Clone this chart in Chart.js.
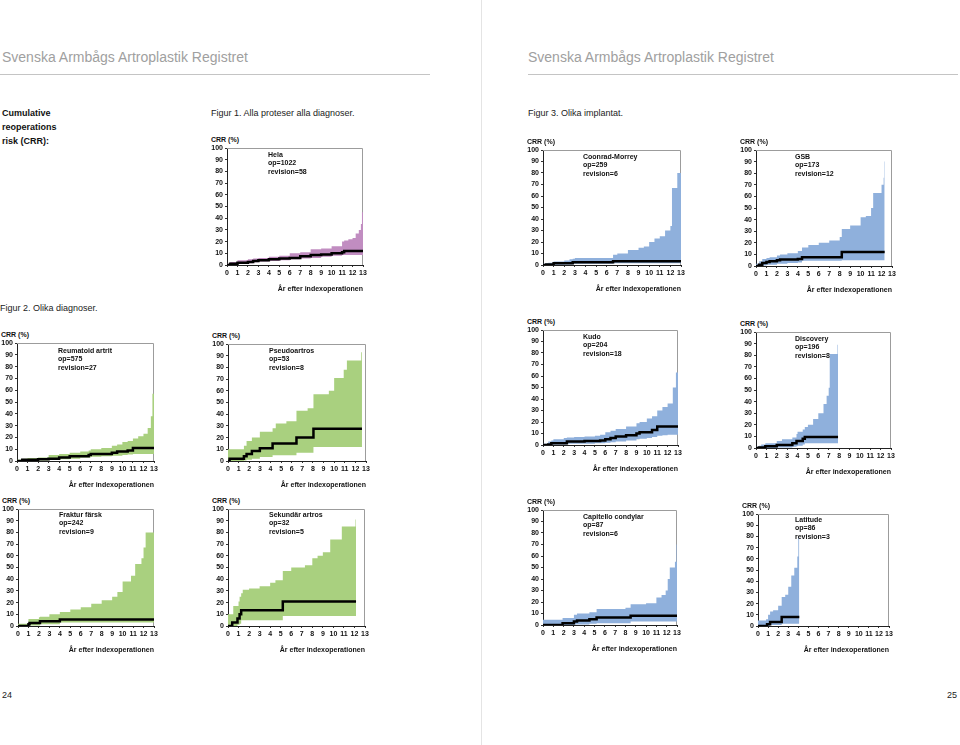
<!DOCTYPE html>
<html>
<head>
<meta charset="utf-8">
<script src="https://cdn.jsdelivr.net/npm/chart.js@4.4.1/dist/chart.umd.min.js"></script>
<style>
  body { margin: 0; width: 960px; height: 745px; position: relative; overflow: hidden; background: #fff;
         font-family: "Liberation Sans", Arial, sans-serif; }
  .abs { position: absolute; white-space: nowrap; }
  .head { font-size: 14px; color: #a0a0a0; }
  .rule { position: absolute; height: 1px; background: #c4c4c4; }
  .fig { font-size: 9px; color: #222; }
  .lead { font-size: 9px; font-weight: bold; color: #111; line-height: 14px; }
  .crr { font-size: 7px; font-weight: bold; color: #111; }
  .note { font-size: 7px; font-weight: bold; color: #111; line-height: 8.3px; }
  canvas { position: absolute; }
</style>
</head>
<body>

<div class="abs head" style="left:2px;top:49px">Svenska Armbågs Artroplastik Registret</div>
<div class="abs head" style="left:528px;top:49px">Svenska Armbågs Artroplastik Registret</div>
<div class="rule" style="left:0;top:74px;width:430px"></div>
<div class="rule" style="left:528px;top:74px;width:430px"></div>
<div style="position:absolute;left:481px;top:0;width:1px;height:745px;background:#e4e4e4"></div>

<div class="abs lead" style="left:2px;top:106px">Cumulative<br>reoperations<br>risk (CRR):</div>
<div class="abs fig" style="left:211px;top:108px">Figur 1. Alla proteser alla diagnoser.</div>
<div class="abs fig" style="left:0px;top:303px">Figur 2. Olika diagnoser.</div>
<div class="abs fig" style="left:528px;top:108px">Figur 3. Olika implantat.</div>
<div class="abs fig" style="left:2px;top:690px">24</div>
<div class="abs fig" style="left:947px;top:690px">25</div>

<script>
// panel labels
const names = ['Hela', 'Reumatoid artrit', 'Pseudoartros', 'Fraktur färsk', 'Sekundär artros',
  'Coonrad-Morrey', 'GSB', 'Kudo', 'Discovery', 'Capitello condylar', 'Latitude']
const ops = [1022, 575, 53, 242, 32, 259, 173, 204, 196, 87, 86]
const revisions = [58, 27, 8, 9, 5, 6, 12, 18, 8, 6, 3]

// years after index operation, CRR, lower and upper limit (%)
const helaT   = [0, 0.3, 1, 2, 2.5, 3, 4, 5, 6, 7, 8, 9, 10, 11, 11.2, 11.6, 12, 12.3, 12.6, 12.8, 12.9, 13]
const helaCrr = [0, 1, 2, 2.5, 3.5, 4, 5, 5.5, 6, 7.5, 8.5, 9, 10, 11, 12, 12, 12, 12, 12, 12, 12, 12]
const helaLo  = [0, 0.3, 1, 1.5, 2.3, 3, 3.5, 4, 5, 5.5, 6, 7, 8, 8.5, 8.5, 8.5, 8.5, 8.5, 8.5, 8.5, 8.5, 8.5]
const helaHi  = [1, 2.5, 4, 5, 5.5, 6, 7, 8, 10, 11, 13.5, 14, 16, 20, 21, 22, 23, 27, 30, 35, 45, 57]

const reumT   = [0, 0.5, 1, 2, 3, 4, 5, 6, 6.8, 7, 8, 9, 9.5, 10, 10.5, 11, 11.5, 12, 12.4, 12.7, 12.85, 13]
const reumCrr = [0, 1, 1, 1.5, 2, 3, 4, 4, 5, 6, 6, 7, 8, 8, 9, 11, 11, 11, 11, 11, 11, 11]
const reumLo  = [0, 0.3, 0.5, 0.5, 1, 1.5, 2, 3, 3, 3.5, 4, 4.5, 4.5, 5, 5.5, 6, 6, 6, 6, 6, 6, 6]
const reumHi  = [1, 2, 2.5, 3, 5, 6, 7, 8, 9, 10, 11, 13, 14, 16, 17, 19, 21, 23, 28, 38, 57, 71]

const pseuT   = [0, 0.15, 1.5, 1.75, 2.25, 3, 4.2, 4.5, 5.5, 6.45, 7.5, 8.05, 9.5, 10, 10.9, 11.2, 12.55, 12.62]
const pseuCrr = [0, 2, 4, 6, 8.5, 11, 15, 15, 15, 20, 20, 27.5, 27.5, 27.5, 27.5, 27.5, 27.5, 27.5]
const pseuLo  = [0, 0, 0.5, 1, 2, 3.5, 5, 5, 5, 7, 7, 12, 12, 12, 12, 12, 12, 12]
const pseuHi  = [10, 10, 13, 17, 20, 25, 28, 32, 34, 43, 45, 57, 60, 71, 78, 86, 93, 93]

const fracT   = [0, 1, 1.1, 2, 2.1, 3, 4, 5, 6, 7, 8, 9, 9.5, 10, 10.8, 11.2, 11.8, 12, 12.2, 13]
const fracCrr = [0, 1.5, 2.5, 2.5, 4, 4, 5.5, 5.5, 5.5, 5.5, 5.5, 5.5, 5.5, 5.5, 5.5, 5.5, 5.5, 5.5, 5.5, 5.5]
const fracLo  = [0, 0.3, 0.5, 0.5, 1.5, 1.5, 3, 3, 3, 3, 3, 3, 3, 3, 3, 3, 3, 3, 3, 3]
const fracHi  = [2, 6, 6, 7.5, 8, 10, 12, 14, 16, 19, 22, 25, 29, 38, 43, 53, 58, 67, 80, 80]

const sekT   = [0, 0.4, 0.5, 0.9, 1, 1.1, 1.25, 1.4, 2, 3, 4, 4.5, 5.2, 6, 7.3, 8, 8.5, 9, 9.7, 10.8, 12.1, 12.15]
const sekCrr = [0, 3, 3, 6.5, 6.5, 10, 13.5, 13.5, 13.5, 13.5, 13.5, 13.5, 21, 21, 21, 21, 21, 21, 21, 21, 21, 21]
const sekLo  = [0, 0, 0, 1, 1, 2, 5, 5, 5, 5, 5, 5, 8.5, 8.5, 8.5, 8.5, 8.5, 8.5, 8.5, 8.5, 8.5, 8.5]
const sekHi  = [10, 10, 17, 17, 21, 25, 28, 31, 32, 34, 37, 39, 47, 50, 52, 58, 60, 63, 74, 85, 91, 91]

const coonT   = [0, 0.3, 0.5, 1, 2, 2.5, 2.8, 3, 6.6, 7, 8, 9, 9.5, 10, 10.5, 11, 11.5, 12, 12.15, 12.65, 13]
const coonCrr = [0, 0.5, 0.5, 1.5, 1.5, 1.5, 2.5, 2.5, 3.3, 3.3, 3.3, 3.3, 3.3, 3.3, 3.3, 3.3, 3.3, 3.3, 3.3, 3.3, 3.3]
const coonLo  = [0, 0, 0, 0.3, 0.5, 0.5, 1, 1, 1.5, 1.5, 1.5, 1.5, 1.5, 1.5, 1.5, 1.5, 1.5, 1.5, 1.5, 1.5, 1.5]
const coonHi  = [1, 1.5, 2, 3, 4, 5, 5.5, 6, 9, 10, 13, 15, 16, 20, 23, 25, 30, 34, 67, 80, 80]

const gsbT   = [0, 0.3, 0.6, 1, 1.3, 2, 2.3, 3, 4, 4.4, 5, 6, 7, 8, 8.2, 9, 10, 10.5, 11, 11.2, 12, 12.2, 12.25, 12.3]
const gsbCrr = [0, 1, 2.5, 3.5, 4, 5, 5.5, 5.5, 6, 7.5, 7.5, 7.5, 7.5, 7.5, 12, 12, 12, 12, 12, 12, 12, 12, 12, 12]
const gsbLo  = [0, 0, 0.5, 1, 1, 2, 2, 2.5, 3, 4.5, 4.5, 4.5, 4.5, 4.5, 5, 5, 5, 5, 5, 5, 5, 5, 5, 5]
const gsbHi  = [2, 4, 6, 7, 7.5, 9, 10, 11, 13, 16, 18, 20, 22, 25, 32, 35, 42, 43, 50, 63, 70, 76, 90, 90]

const kudoT   = [0, 0.5, 0.8, 1, 2, 2.3, 3, 4, 5, 5.5, 6, 6.5, 7, 8, 9, 9.3, 10, 10.5, 11, 11.5, 12, 12.5, 12.8, 13]
const kudoCrr = [0, 0.5, 1.5, 1.5, 1.5, 3, 3, 3.5, 3.5, 4, 5, 6, 7.5, 8.5, 10, 11, 11, 13, 16, 16, 16, 16, 16, 16]
const kudoLo  = [0, 0, 0.3, 0.5, 0.5, 1, 1, 1, 1.5, 1.5, 2, 2.5, 3, 4, 5, 5.5, 6, 7, 8, 8.5, 9, 9, 9, 9]
const kudoHi  = [1, 3, 4, 5, 6, 6.5, 7, 7.5, 8, 9, 11, 12.5, 14, 16, 19, 20, 23, 25, 30, 33, 36, 50, 63, 75]

const discT   = [0, 0.3, 0.5, 0.9, 1, 2, 2.5, 3.5, 3.9, 4, 4.5, 4.7, 5, 5.5, 6, 6.5, 6.8, 7, 7.1, 7.8, 7.85, 7.9]
const discCrr = [0, 0.5, 0.5, 1.5, 1.5, 2.5, 2.5, 4, 6, 6, 8, 9.5, 9.5, 9.5, 9.5, 9.5, 9.5, 9.5, 9.5, 9.5, 9.5, 9.5]
const discLo  = [0, 0, 0, 0, 0, 0.5, 0.5, 1, 1.5, 2, 3, 4, 4, 4, 4, 4, 4, 4, 4, 4, 4, 4]
const discHi  = [1, 2, 3, 4, 4, 6, 7.5, 9, 12, 14, 16, 18, 20, 25, 30, 38, 45, 52, 81, 81, 89, 89]

const capT   = [0, 1.9, 3, 3.3, 4.5, 5.2, 8, 8.5, 10, 11, 11.5, 11.9, 12.1, 12.3, 12.8, 12.95, 13]
const capCrr = [0, 1.5, 3, 4, 5, 6.5, 6.5, 8, 8, 8, 8, 8, 8, 8, 8, 8, 8]
const capLo  = [0, 0, 0.5, 0.5, 1, 1.5, 1.5, 3, 3, 3, 3, 3, 3, 3, 3, 3, 3]
const capHi  = [4.5, 6, 9, 10, 11, 14, 15, 18, 19, 24, 26, 30, 40, 50, 55, 70, 70]

const latT   = [0, 0.8, 0.9, 1, 1.2, 1.5, 2, 2.35, 2.7, 3, 3.3, 3.6, 3.9, 4, 4.1]
const latCrr = [0, 0, 1.5, 1.5, 3.5, 3.5, 3.5, 8, 8, 8, 8, 8, 8, 8, 8]
const latLo  = [0, 0, 0, 0, 1, 1, 1, 2, 2, 2, 2, 2, 2, 2, 2]
const latHi  = [5, 6, 6, 10, 13, 14, 18, 26, 28, 35, 45, 52, 62, 80, 80]

const xTicks = [0, 1, 2, 3, 4, 5, 6, 7, 8, 9, 10, 11, 12, 13]
const yTicks = [0, 10, 20, 30, 40, 50, 60, 70, 80, 90, 100]

const purple = '#c18dc1'
const green = '#a9d07f'
const blue = '#8fb0dc'

// where each little chart sits on the spread
const panels = [
  { t: helaT, crr: helaCrr, lo: helaLo, hi: helaHi, color: purple, x0: 227, top: 148, right: 363, bottom: 265, nx: 268, ny: 151 },
  { t: reumT, crr: reumCrr, lo: reumLo, hi: reumHi, color: green, x0: 17, top: 343, right: 154, bottom: 461, nx: 58, ny: 347 },
  { t: pseuT, crr: pseuCrr, lo: pseuLo, hi: pseuHi, color: green, x0: 228, top: 344, right: 366, bottom: 461, nx: 269, ny: 347 },
  { t: fracT, crr: fracCrr, lo: fracLo, hi: fracHi, color: green, x0: 18, top: 509, right: 154, bottom: 626, nx: 59, ny: 511 },
  { t: sekT, crr: sekCrr, lo: sekLo, hi: sekHi, color: green, x0: 228, top: 509, right: 365, bottom: 626, nx: 269, ny: 511 },
  { t: coonT, crr: coonCrr, lo: coonLo, hi: coonHi, color: blue, x0: 543, top: 150, right: 681, bottom: 265, nx: 583, ny: 153 },
  { t: gsbT, crr: gsbCrr, lo: gsbLo, hi: gsbHi, color: blue, x0: 756, top: 150, right: 892, bottom: 266, nx: 795, ny: 153 },
  { t: kudoT, crr: kudoCrr, lo: kudoLo, hi: kudoHi, color: blue, x0: 543, top: 330, right: 678, bottom: 445, nx: 583, ny: 333 },
  { t: discT, crr: discCrr, lo: discLo, hi: discHi, color: blue, x0: 756, top: 332, right: 891, bottom: 448, nx: 795, ny: 335 },
  { t: capT, crr: capCrr, lo: capLo, hi: capHi, color: blue, x0: 543, top: 510, right: 677, bottom: 625, nx: 583, ny: 513 },
  { t: latT, crr: latCrr, lo: latLo, hi: latHi, color: blue, x0: 758, top: 514, right: 889, bottom: 626, nx: 795, ny: 516 }
]

Chart.defaults.font.family = '"Liberation Sans", Arial, sans-serif'
Chart.defaults.color = '#111'

// thin grey frame on top and right of the plot area
const frame = {
  id: 'frame',
  beforeDatasetsDraw(chart) {
    const { ctx, chartArea: a } = chart
    ctx.save()
    ctx.strokeStyle = '#9c9c9c'
    ctx.lineWidth = 1
    ctx.beginPath()
    ctx.moveTo(a.left, a.top + 0.5)
    ctx.lineTo(a.right - 0.5, a.top + 0.5)
    ctx.lineTo(a.right - 0.5, a.bottom)
    ctx.stroke()
    ctx.restore()
  }
}

const pts = (t, v) => t.map((x, i) => ({ x: x, y: v[i] }))
const tickFont = { size: 7, weight: 'bold' }

panels.forEach((p, i) => {
  const w = p.right - p.x0
  const h = p.bottom - p.top

  const lab = document.createElement('div')
  lab.className = 'abs crr'
  lab.style.left = (p.x0 - 16) + 'px'
  lab.style.top = (p.top - 12) + 'px'
  lab.textContent = 'CRR (%)'
  document.body.appendChild(lab)

  const canvas = document.createElement('canvas')
  canvas.width = 20 + w + 8
  canvas.height = 8 + h + 28
  canvas.style.left = (p.x0 - 20) + 'px'
  canvas.style.top = (p.top - 8) + 'px'
  document.body.appendChild(canvas)

  const note = document.createElement('div')
  note.className = 'abs note'
  note.style.left = p.nx + 'px'
  note.style.top = p.ny + 'px'
  note.innerHTML = names[i] + '<br>op=' + ops[i] + '<br>revision=' + revisions[i]
  document.body.appendChild(note)

  new Chart(canvas, {
    type: 'line',
    data: {
      datasets: [
        { data: pts(p.t, p.crr), borderColor: '#000', borderWidth: 2.5, stepped: true, pointRadius: 0, fill: false },
        { data: pts(p.t, p.hi), borderColor: 'transparent', borderWidth: 0, stepped: true, pointRadius: 0,
          fill: '+1', backgroundColor: p.color },
        { data: pts(p.t, p.lo), borderColor: 'transparent', borderWidth: 0, stepped: true, pointRadius: 0, fill: false }
      ]
    },
    options: {
      responsive: false,
      animation: false,
      events: [],
      layout: { padding: { top: 8, right: 8, left: 0, bottom: 0 } },
      plugins: { legend: { display: false }, tooltip: { enabled: false } },
      scales: {
        x: {
          type: 'linear', min: 0, max: 13,
          afterFit: s => { s.height = 28 },
          afterBuildTicks: s => { s.ticks = xTicks.map(v => ({ value: v })) },
          ticks: { autoSkip: false, maxRotation: 0, font: tickFont, padding: 2 },
          grid: { drawOnChartArea: false, tickLength: 2, color: '#333' },
          border: { color: '#222' },
          title: { display: true, text: 'År efter indexoperationen', align: 'end', font: tickFont, padding: { top: 0, bottom: 0 } }
        },
        y: {
          min: 0, max: 100,
          afterFit: s => { s.width = 20 },
          afterBuildTicks: s => { s.ticks = yTicks.map(v => ({ value: v })) },
          ticks: { autoSkip: false, font: tickFont, padding: 2 },
          grid: { drawOnChartArea: false, tickLength: 2, color: '#333' },
          border: { color: '#222' }
        }
      }
    },
    plugins: [frame]
  })
})
</script>
</body>
</html>
